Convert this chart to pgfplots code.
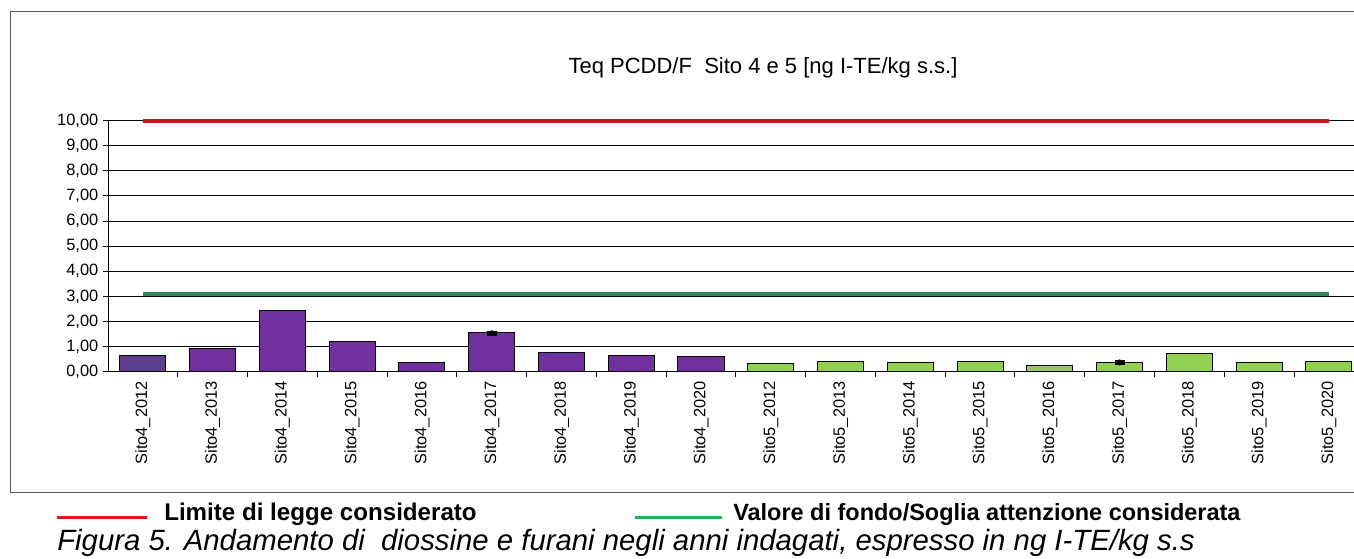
\documentclass[border=0pt]{standalone}
\usepackage{fontspec}
\setmainfont{Liberation Sans}
\usepackage{pgfplots}
\pgfplotsset{compat=1.18}
\definecolor{purpdark}{RGB}{91,62,140}
\definecolor{purp}{RGB}{112,48,160}
\definecolor{grn}{RGB}{146,208,80}
\definecolor{grnpale}{RGB}{157,196,106}
\definecolor{limred}{RGB}{196,22,30}
\definecolor{limgreen}{RGB}{46,139,87}
\definecolor{legred}{RGB}{232,20,28}
\definecolor{leggreen}{RGB}{30,180,80}
\begin{document}
\begin{tikzpicture}[x=0.75pt,y=-0.75pt]
\draw[black!65, line width=0.75pt] (10,12) rectangle (1372,493);
\node[font=\fontsize{16.5}{18}\selectfont] at (763,68) {Teq PCDD/F~\ Sito 4 e 5 [ng I-TE/kg s.s.]};
\begin{axis}[
  at={(81pt,-278.775pt)}, anchor=south west,
  scale only axis, width=934.5pt, height=188.25pt,
  xmin=-0.5, xmax=17.36, ymin=0, ymax=10,
  axis x line=bottom, axis y line=left,
  axis line style={-, black, line width=0.75pt},
  ytick={0,1,...,10}, ymajorgrids,
  major grid style={black, line width=0.75pt},
  tick align=outside,
  major tick length=3.75pt, minor tick length=3.75pt,
  tick style={black, line width=0.75pt},
  yticklabel style={font=\fontsize{12.3}{13}\selectfont,
    /pgf/number format/.cd, fixed, fixed zerofill, precision=2, use comma, assume math mode=true},
  xtick={0,1,...,17},
  major x tick style={draw=none},
  minor xtick={0.5,1.5,...,16.5},
  xticklabels={Sito4\_2012,Sito4\_2013,Sito4\_2014,Sito4\_2015,Sito4\_2016,Sito4\_2017,Sito4\_2018,Sito4\_2019,Sito4\_2020,Sito5\_2012,Sito5\_2013,Sito5\_2014,Sito5\_2015,Sito5\_2016,Sito5\_2017,Sito5\_2018,Sito5\_2019,Sito5\_2020},
  xticklabel style={rotate=90, anchor=east, font=\fontsize{12.3}{13}\selectfont},
  clip=false,
]
\addplot[ybar, bar shift=0pt, bar width=0.66, fill=purpdark, draw=black, line width=0.75pt] coordinates {(0,0.64)};
\addplot[ybar, bar shift=0pt, bar width=0.66, fill=purp, draw=black, line width=0.75pt] coordinates {(1,0.92) (2,2.43) (3,1.20) (4,0.36) (5,1.55) (6,0.78) (7,0.64) (8,0.59)};
\addplot[ybar, bar shift=0pt, bar width=0.66, fill=grn, draw=black, line width=0.75pt] coordinates {(9,0.32) (10,0.41) (11,0.37) (12,0.41) (14,0.36) (15,0.73) (16,0.36) (17,0.40)};
\addplot[ybar, bar shift=0pt, bar width=0.66, fill=grnpale, draw=black, line width=0.75pt] coordinates {(13,0.23)};
\addplot[only marks, mark=none, error bars/.cd, y dir=both, y explicit,
  error bar style={black, line width=1.5pt},
  error mark options={black, line width=2pt, mark size=3.75pt, rotate=90}]
  coordinates {(5,1.53) +- (0,0.04) (14,0.37) +- (0,0.04)};
\addplot[limgreen, line width=3pt, mark=none] coordinates {(0,3.09) (17,3.09)};
\addplot[limred, line width=3pt, mark=none] coordinates {(0,9.97) (17,9.97)};
\end{axis}
\draw[legred, line width=2.25pt] (57,518) -- (147,518);
\node[anchor=base west, inner sep=0pt, font=\fontsize{18.1}{20}\selectfont\bfseries] at (164,521) {Limite di legge considerato};
\draw[leggreen, line width=2.25pt] (635,518) -- (722,518);
\node[anchor=base west, inner sep=0pt, font=\fontsize{17.6}{20}\selectfont\bfseries] at (733,521) {Valore di fondo/Soglia attenzione considerata};
\node[anchor=base west, inner sep=0pt, font=\fontsize{22}{24}\selectfont\itshape] at (57,551) {Figura 5. Andamento di\ \ diossine e furani negli anni indagati, espresso in ng I-TE/kg s.s};
\pgfresetboundingbox
\path[use as bounding box] (0,0) rectangle (1354,559);
\end{tikzpicture}
\end{document}
